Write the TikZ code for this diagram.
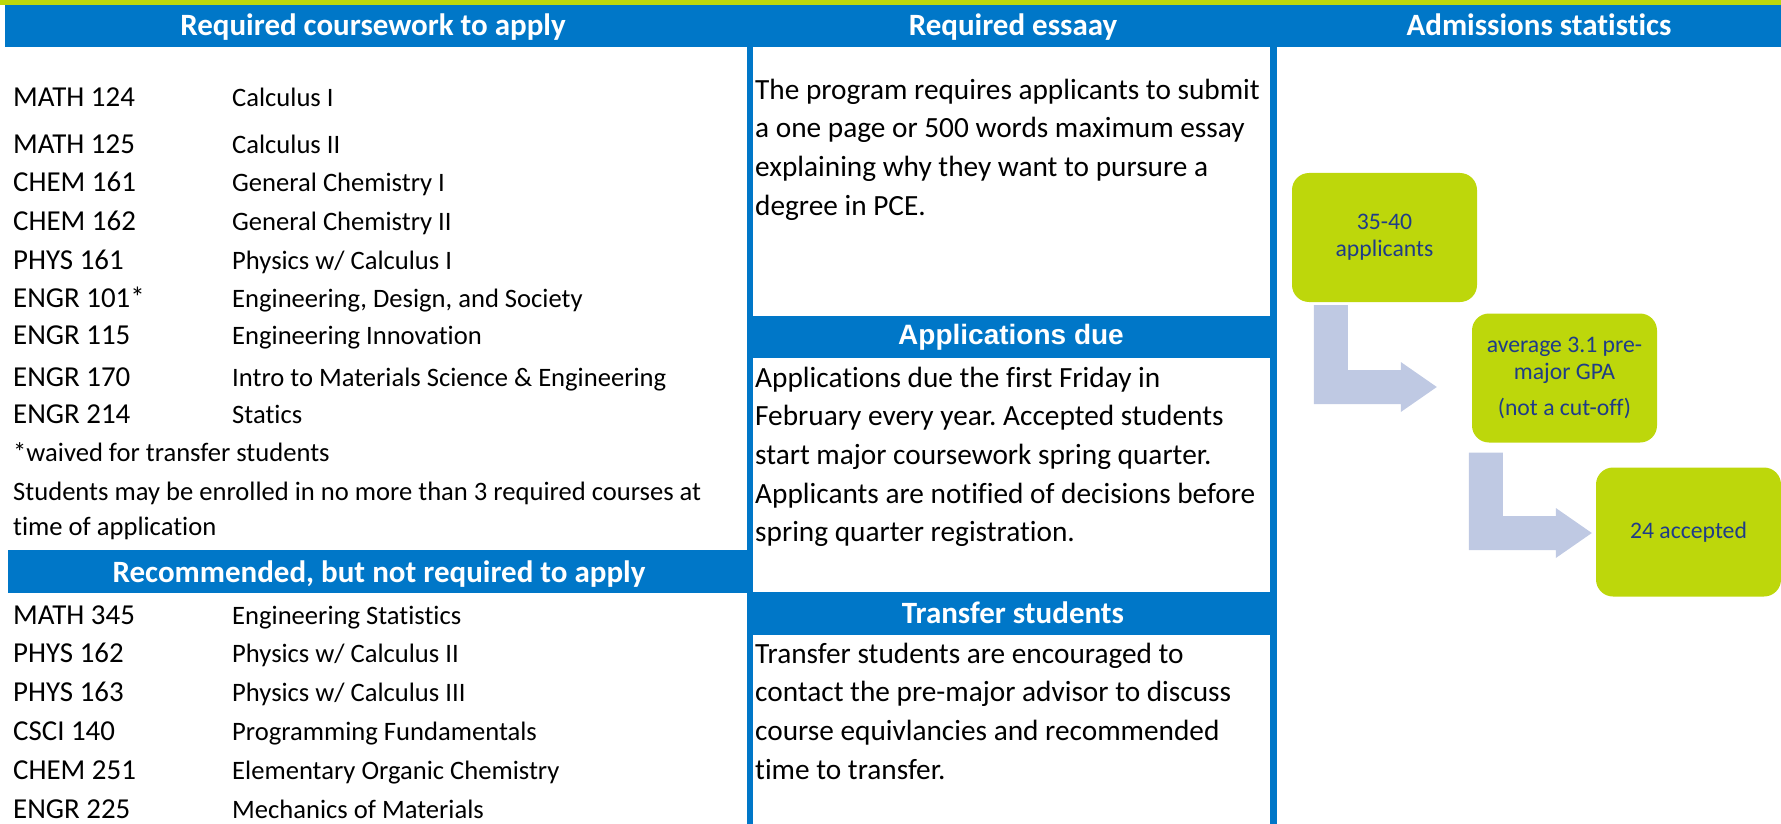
\documentclass[tikz,border=0pt]{standalone}
\usepackage{fontspec}
\setmainfont{Carlito}[Ligatures=NoCommon]
\newfontfamily\arialfont{Liberation Sans}
\usetikzlibrary{calc}
\definecolor{ucblue}{HTML}{0077C8}
\definecolor{ucgreen}{HTML}{BDD70B}
\definecolor{flowgrey}{HTML}{BFC9E3}
\definecolor{navytext}{HTML}{1F3C88}
\tikzset{
	plainspace/.style={execute at begin node={\spaceskip=0pt\xspaceskip=0pt}},
	coursecode/.style={anchor=base west, inner sep=0pt, font=\fontsize{28.9}{34}\selectfont},
	coursename/.style={anchor=base west, inner sep=0pt, font=\fontsize{26.6}{35}\selectfont},
	bodytext/.style={anchor=base west, inner sep=0pt, text width=560pt, plainspace, font=\fontsize{29.3}{38.7}\selectfont},
	headtext/.style={anchor=base, inner sep=0pt, text=white, font=\fontsize{31}{36}\selectfont\bfseries},
	statbox/.style={fill=ucgreen, rounded corners=17pt, minimum width=185pt, minimum height=129pt, align=center, text=navytext, font=\fontsize{23.7}{27}\selectfont},
	flowarrow/.style={fill=flowgrey}
}
\def\bentarrow(#1)(#2){\fill[flowarrow] (#1) -- ++(34,0) |- ($(#2)+(-36,-17)$) -- ++(0,-8) -- (#2) -- ++(-36,25) -- ++(0,-8) -| (#1) -- cycle;}
\frenchspacing

\begin{document}
\begin{tikzpicture}[x=1pt, y=-1pt]
		%%%%% START %%%%%
		\useasboundingbox (0, 0) rectangle (1781, 824);
		
		\fill[ucgreen] (0, 0) rectangle (1781, 5);
		\fill[ucblue] (5, 5) rectangle (1781, 47);
		\fill[ucblue] (747, 47) rectangle (753, 824);
		\fill[ucblue] (1270, 47) rectangle (1277, 824);
		\fill[ucblue] (8, 550) rectangle (747, 593);
		\fill[ucblue] (747, 316) rectangle (1277, 358);
		\fill[ucblue] (747, 592) rectangle (1277, 635);
		
		\node[headtext] (reqhead) at (373, 36) {Required coursework to apply};
		\node[headtext] (essayhead) at (1013, 36) {Required essaay};
		\node[headtext] (stathead) at (1539, 36) {Admissions statistics};
		\node[headtext] (rechead) at (379, 582) {Recommended, but not required to apply};
		\node[headtext, font=\arialfont\fontsize{28}{32}\selectfont\bfseries] (duehead) at (1011, 344) {Applications due};
		\node[headtext] (transhead) at (1013, 623) {Transfer students};
		
		% required courses
		\node[coursecode] (math124) at (13, 106.7) {MATH 124};
		\node[coursename] (math124t) at (232, 106.7) {Calculus I};
		\node[coursecode] (math125) at (13, 153.3) {MATH 125};
		\node[coursename] (math125t) at (232, 153.3) {Calculus II};
		\node[coursecode] (chem161) at (13, 191.7) {CHEM 161};
		\node[coursename] (chem161t) at (232, 191.7) {General Chemistry I};
		\node[coursecode] (chem162) at (13, 230) {CHEM 162};
		\node[coursename] (chem162t) at (232, 230) {General Chemistry II};
		\node[coursecode] (phys161) at (13, 269) {PHYS 161};
		\node[coursename] (phys161t) at (232, 269) {Physics w/ Calculus I};
		\node[coursecode] (engr101) at (13, 307) {ENGR 101*};
		\node[coursename] (engr101t) at (232, 307) {Engineering, Design, and Society};
		\node[coursecode] (engr115) at (13, 344) {ENGR 115};
		\node[coursename] (engr115t) at (232, 344) {Engineering Innovation};
		\node[coursecode] (engr170) at (13, 386) {ENGR 170};
		\node[coursename] (engr170t) at (232, 386) {Intro to Materials Science \& Engineering};
		\node[coursecode] (engr214) at (13, 423.5) {ENGR 214};
		\node[coursename] (engr214t) at (232, 423.5) {Statics};
		\node[coursename] (waived) at (13, 461.7) {*waived for transfer students};
		\node[coursename, text width=730pt, plainspace] (enrolled) at (13, 500) {Students may be enrolled in no more than 3 required courses at\\time of application};
		
		% recommended courses
		\node[coursecode] (math345) at (13, 624) {MATH 345};
		\node[coursename] (math345t) at (232, 624) {Engineering Statistics};
		\node[coursecode] (phys162) at (13, 662.7) {PHYS 162};
		\node[coursename] (phys162t) at (232, 662.7) {Physics w/ Calculus II};
		\node[coursecode] (phys163) at (13, 701.7) {PHYS 163};
		\node[coursename] (phys163t) at (232, 701.7) {Physics w/ Calculus III};
		\node[coursecode] (csci140) at (13, 740) {CSCI 140};
		\node[coursename] (csci140t) at (232, 740) {Programming Fundamentals};
		\node[coursecode] (chem251) at (13, 779) {CHEM 251};
		\node[coursename] (chem251t) at (232, 779) {Elementary Organic Chemistry};
		\node[coursecode] (engr225) at (13, 818) {ENGR 225};
		\node[coursename] (engr225t) at (232, 818) {Mechanics of Materials};
		
		% middle column
		\node[bodytext] (essay) at (755, 99.3) {The program requires applicants to submit\\a one page or 500 words maximum essay\\explaining why they want to pursure a\\degree in PCE.};
		\node[bodytext] (due) at (755, 387) {Applications due the first Friday in\\February every year. Accepted students\\start major coursework spring quarter.\\Applicants are notified of decisions before\\spring quarter registration.};
		\node[bodytext] (transfer) at (755, 663) {Transfer students are encouraged to\\contact the pre-major advisor to discuss\\course equivlancies and recommended\\time to transfer.};
		
		% statistics
		\node[statbox] (apps) at (1384.5, 237.5) {35-40\\applicants};
		\node[statbox] (gpa) at (1564.5, 378) {average 3.1 pre-\\major GPA\\[9pt](not a cut-off)};
		\node[statbox] (accepted) at (1688.5, 532) {24 accepted};
		
		\coordinate (a1s) at ($(apps.south west)+(22,3)$);
		\coordinate (a1t) at ($(gpa.west)+(-35,9)$);
		\coordinate (a2s) at ($(gpa.south west)+(-3,10)$);
		\coordinate (a2t) at ($(accepted.west)+(-4,1)$);
		\bentarrow(a1s)(a1t)
		\bentarrow(a2s)(a2t)
		
		%%%%% END %%%%%
	\end{tikzpicture}
\end{document}
